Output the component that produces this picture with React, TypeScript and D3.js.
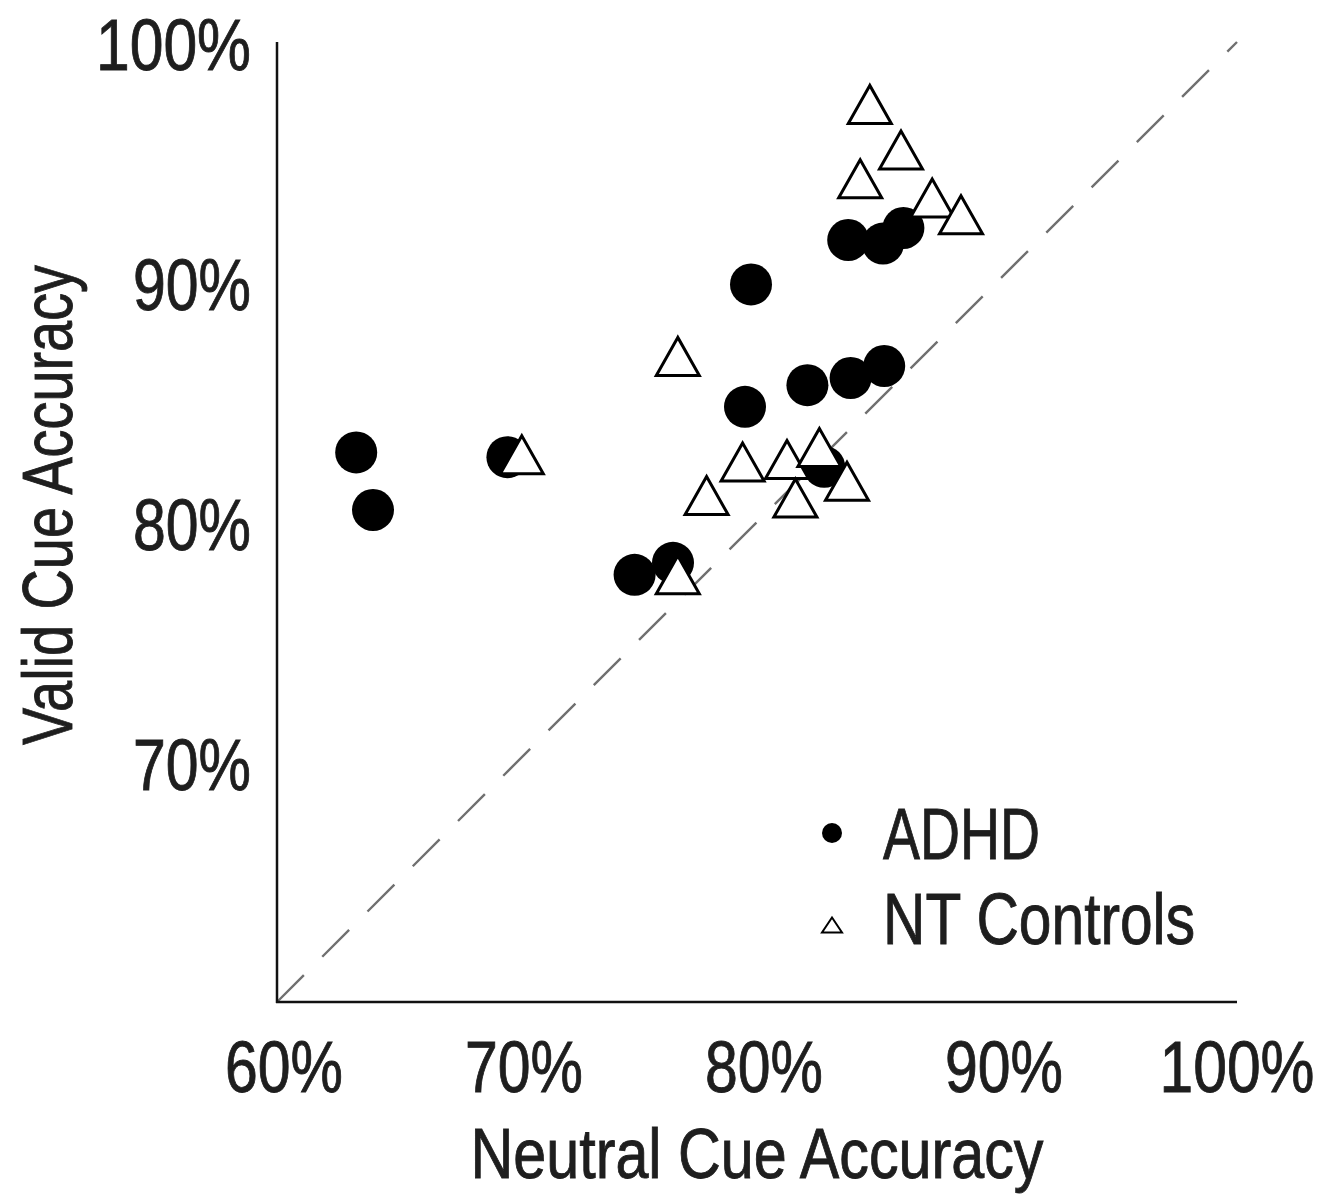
import React from "react";
import * as d3 from "d3";

// Accuracy (%) per participant: neutral cue on x, valid cue on y
const adhdNeutral = [63.3, 64.0, 69.6, 74.9, 76.5, 79.75, 79.5, 82.1, 83.9, 85.3, 82.8, 83.8, 85.25, 86.1];
const adhdValid = [82.9, 80.5, 82.7, 77.8, 78.3, 89.9, 84.8, 85.7, 86.0, 86.5, 82.3, 91.75, 91.6, 92.25];

const ntNeutral = [76.7, 79.4, 77.9, 81.25, 82.6, 81.6, 83.75, 76.7, 70.2, 84.7, 86.0, 84.3, 87.3, 88.5];
const ntValid = [86.9, 82.5, 81.1, 82.6, 83.1, 81.0, 81.7, 77.8, 82.8, 97.4, 95.5, 94.3, 93.5, 92.8];

const xTicks = [60, 70, 80, 90, 100];
const yTicks = [70, 80, 90, 100];
const legendItems = ["ADHD", "NT Controls"];

const W = 1338;
const H = 1194;
const FONT = "'Liberation Sans', Arial, Helvetica, sans-serif";
const TEXT = "#1e1e1e";

export default function App() {
  const x = d3.scaleLinear().domain([60, 100]).range([277, 1237]);
  const y = d3.scaleLinear().domain([60, 100]).range([1002, 42]);

  const R = 21;
  const triW = 43;
  const triH = 38;
  const tri = (cx: number, cy: number, w: number, h: number) =>
    `M${cx},${cy - h / 2}L${cx - w / 2},${cy + h / 2}L${cx + w / 2},${cy + h / 2}Z`;

  const labelWidth = (s: string) => (s.length === 4 ? 155 : 118);

  // shared text styling: condensed via textLength, slightly heavier strokes
  const txt = {
    fill: TEXT,
    stroke: TEXT,
    strokeWidth: 0.9,
    lengthAdjust: "spacingAndGlyphs" as const,
  };

  return (
    <svg
      width={W}
      height={H}
      style={{ position: "absolute", left: 0, top: 0, background: "#fff" }}
      fontFamily={FONT}
    >
      <rect x={0} y={0} width={W} height={H} fill="#fff" />

      {/* identity reference line */}
      <line
        x1={x(60)}
        y1={y(60)}
        x2={x(100)}
        y2={y(100)}
        stroke="#707070"
        strokeWidth={2.4}
        strokeDasharray="38 26"
      />

      {/* ADHD */}
      {adhdNeutral.map((v, i) => (
        <circle key={`a${i}`} cx={x(v)} cy={y(adhdValid[i])} r={R} fill="#000" />
      ))}

      {/* NT controls */}
      {ntNeutral.map((v, i) => (
        <path
          key={`n${i}`}
          d={tri(x(v), y(ntValid[i]), triW, triH)}
          fill="#fff"
          stroke="#000"
          strokeWidth={3}
          strokeLinejoin="miter"
        />
      ))}

      {/* axes */}
      <line x1={x(60)} y1={y(100)} x2={x(60)} y2={y(60) + 1} stroke="#111" strokeWidth={2.5} />
      <line x1={x(60) - 1} y1={y(60)} x2={x(100)} y2={y(60)} stroke="#111" strokeWidth={2.5} />

      {/* y tick labels */}
      {yTicks.map((t) => {
        const s = `${t}%`;
        return (
          <text
            key={`y${t}`}
            x={251}
            y={y(t) + 3}
            textAnchor="end"
            dominantBaseline="central"
            fontSize={72}
            textLength={labelWidth(s)}
            {...txt}
          >
            {s}
          </text>
        );
      })}

      {/* x tick labels */}
      {xTicks.map((t) => {
        const s = `${t}%`;
        return (
          <text
            key={`x${t}`}
            x={x(t) + (t < 100 ? 7 : 0)}
            y={1092}
            textAnchor="middle"
            fontSize={72}
            textLength={labelWidth(s)}
            {...txt}
          >
            {s}
          </text>
        );
      })}

      {/* axis titles */}
      <text x={757} y={1178} textAnchor="middle" fontSize={70} textLength={573} {...txt}>
        Neutral Cue Accuracy
      </text>
      <text
        transform="translate(72,505) rotate(-90)"
        textAnchor="middle"
        fontSize={70}
        textLength={480}
        {...txt}
      >
        Valid Cue Accuracy
      </text>

      {/* legend */}
      <circle cx={832} cy={833} r={10} fill="#000" />
      <path d={tri(832, 925, 20, 15)} fill="#fff" stroke="#000" strokeWidth={2} />
      <text x={883} y={859} fontSize={72} textLength={157} {...txt}>
        {legendItems[0]}
      </text>
      <text x={883} y={944} fontSize={72} textLength={312} {...txt}>
        {legendItems[1]}
      </text>
    </svg>
  );
}
